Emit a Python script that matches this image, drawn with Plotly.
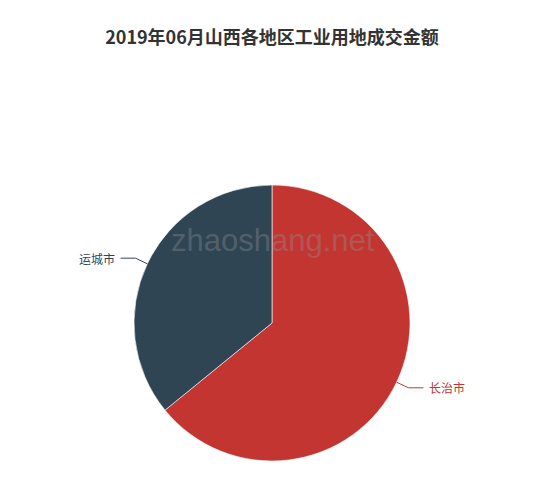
import math
import plotly.graph_objects as go

W, H = 550, 490
OFF = 8  # page body margin, screen px = figure px + OFF

regions = ["长治市", "运城市"]
amounts = [1.93, 1.08]
colors = ["#c23531", "#2f4554"]

title = "2019年06月山西各地区工业用地成交金额"
watermark = "zhaoshang.net"

# pie placement in screen pixels
cx, cy, r = 272 - OFF, 323 - OFF, 138


def px(x, y):
    return x / W, 1 - y / H


fig = go.Figure()
fig.add_trace(go.Pie(
    labels=regions, values=amounts,
    marker=dict(colors=colors, line=dict(color="#ffffff", width=0.6)),
    sort=False, direction="clockwise", rotation=0,
    textinfo="none", hoverinfo="label+value+percent",
    domain=dict(x=[(cx - r) / W, (cx + r) / W],
                y=[1 - (cy + r) / H, 1 - (cy - r) / H]),
    showlegend=False,
))

# leader lines + labels, echarts-like
total = sum(amounts)
start = 0.0
for name, v, c in zip(regions, amounts, colors):
    mid = (start + v / 2) / total * 2 * math.pi
    start += v
    sx, sy = math.sin(mid), -math.cos(mid)
    x0, y0 = cx + r * sx, cy + r * sy
    x1, y1 = cx + (r + 13) * sx, cy + (r + 13) * sy
    side = 1 if sx >= 0 else -1
    x2 = x1 + side * 15
    for (a, b), (c2, d) in [((x0, y0), (x1, y1)), ((x1, y1), (x2, y1))]:
        p, q = px(a, b)
        s, t = px(c2, d)
        fig.add_shape(type="line", xref="paper", yref="paper",
                      x0=p, y0=q, x1=s, y1=t, line=dict(color=c, width=1))
    lx, ly = px(x2 + side * 4, y1)
    fig.add_annotation(x=lx, y=ly, xref="paper", yref="paper", text=name,
                       showarrow=False, xanchor="left" if side > 0 else "right",
                       yanchor="middle", font=dict(size=12, color=c))

wx, wy = px(273 - OFF, 241 - OFF)
fig.add_annotation(x=wx, y=wy, xref="paper", yref="paper", text=watermark,
                   showarrow=False, xanchor="center", yanchor="middle",
                   font=dict(size=31, color="rgba(150,150,150,0.35)",
                             family="Liberation Sans, Arial, sans-serif"))

fig.update_layout(
    width=W, height=H,
    margin=dict(l=0, r=0, t=0, b=0),
    paper_bgcolor="#ffffff", plot_bgcolor="#ffffff",
    font=dict(family="Noto Sans CJK SC, sans-serif"),
    title=dict(text="<b>" + title + "</b>", x=(272 - OFF) / W, xanchor="center",
               y=1 - (38 - OFF) / H, yanchor="middle",
               font=dict(size=18, color="#333333",
                         family="Noto Sans CJK SC, sans-serif")),
)

fig.write_html("out.html")
